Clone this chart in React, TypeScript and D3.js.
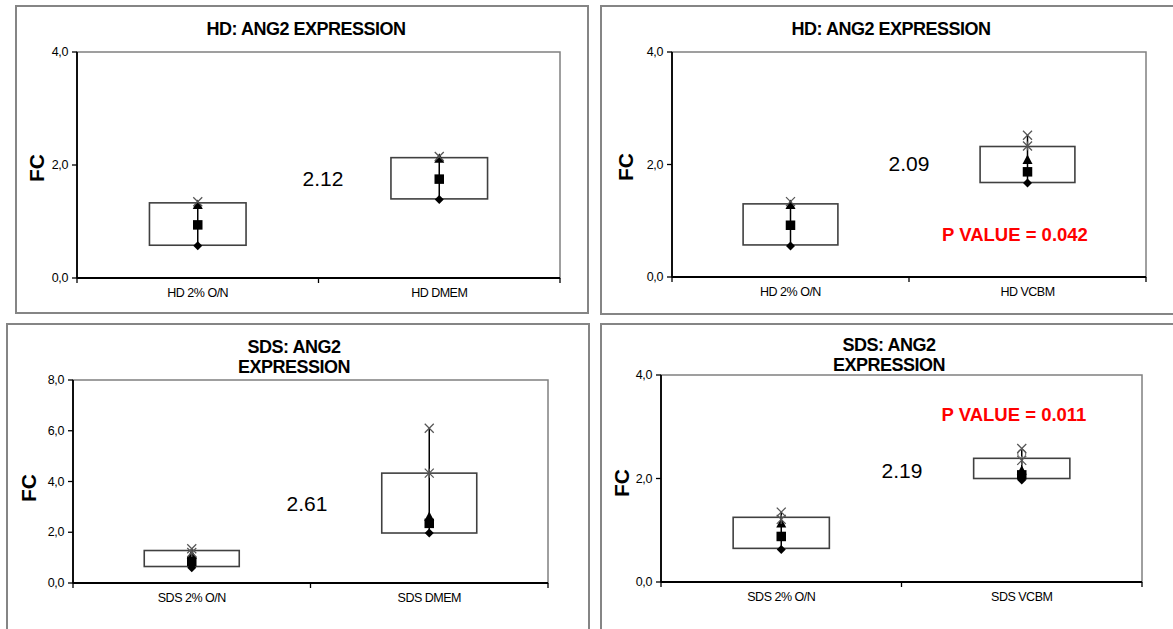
import React from "react";
import * as d3 from "d3";

// ---------- DATA ----------
const hdTitle = ["HD: ANG2 EXPRESSION"];
const sdsTitle = ["SDS: ANG2", "EXPRESSION"];
const yLabel = "FC";

const ticksMax4 = [0, 2, 4];
const ticksMax8 = [0, 2, 4, 6, 8];

const p1Categories = ["HD 2% O/N", "HD DMEM"];
const p1BoxLow = [0.58, 1.4];
const p1BoxHigh = [1.33, 2.13];
const p1Diamond = [0.57, 1.39];
const p1Square = [0.94, 1.75];
const p1Triangle = [1.29, 2.11];
const p1Star: (number | null)[] = [null, null];
const p1Circle: (number | null)[] = [null, null];
const p1Cross = [1.35, 2.15];

const p2Categories = ["HD 2% O/N", "HD VCBM"];
const p2BoxLow = [0.57, 1.68];
const p2BoxHigh = [1.3, 2.32];
const p2Diamond = [0.55, 1.67];
const p2Square = [0.92, 1.87];
const p2Triangle = [1.28, 2.08];
const p2Star: (number | null)[] = [null, 2.33];
const p2Circle: (number | null)[] = [null, null];
const p2Cross = [1.34, 2.52];

const p3Categories = ["SDS 2% O/N", "SDS DMEM"];
const p3BoxLow = [0.65, 1.97];
const p3BoxHigh = [1.28, 4.33];
const p3Diamond = [0.6, 1.97];
const p3Square = [0.85, 2.35];
const p3Triangle = [1.1, 2.6];
const p3Star: (number | null)[] = [1.2, 4.33];
const p3Circle: (number | null)[] = [null, null];
const p3Cross = [1.35, 6.1];

const p4Categories = ["SDS 2% O/N", "SDS VCBM"];
const p4BoxLow = [0.65, 2.0];
const p4BoxHigh = [1.25, 2.39];
const p4Diamond = [0.63, 1.97];
const p4Square = [0.88, 2.07];
const p4Triangle = [1.13, 2.15];
const p4Star: (number | null)[] = [1.21, 2.35];
const p4Circle: (number | null)[] = [null, 2.48];
const p4Cross = [1.35, 2.58];

const foldChangeLabels = ["2.12", "2.09", "2.61", "2.19"];
const pValueLabels: (string | null)[] = [null, "P VALUE = 0.042", null, "P VALUE = 0.011"];

// ---------- LAYOUT ----------
type Layout = {
  frame: { x: number; y: number; w: number; h: number };
  plot: { l: number; t: number; r: number; b: number };
  titleX: number;
  titleY: number[];
  fc: { x: number; y: number };
  fold: { x: number; y: number };
  p?: { x: number; y: number };
};

const layouts: Layout[] = [
  {
    frame: { x: 16, y: 6, w: 572, h: 307 },
    plot: { l: 77, t: 52, r: 560, b: 278 },
    titleX: 306,
    titleY: [29],
    fc: { x: 36, y: 168 },
    fold: { x: 323, y: 178 },
  },
  {
    frame: { x: 601, y: 6, w: 620, h: 308 },
    plot: { l: 672, t: 52, r: 1146, b: 277 },
    titleX: 891,
    titleY: [29],
    fc: { x: 625, y: 167 },
    fold: { x: 909, y: 163 },
    p: { x: 1015, y: 234 },
  },
  {
    frame: { x: 7, y: 324, w: 582, h: 340 },
    plot: { l: 73, t: 380, r: 548, b: 583 },
    titleX: 294,
    titleY: [347, 367],
    fc: { x: 28, y: 488 },
    fold: { x: 307, y: 503 },
  },
  {
    frame: { x: 601, y: 324, w: 620, h: 340 },
    plot: { l: 661, t: 375, r: 1142, b: 582 },
    titleX: 889,
    titleY: [345, 365],
    fc: { x: 621, y: 483 },
    fold: { x: 902, y: 470 },
    p: { x: 1014, y: 414 },
  },
];

const panels = [
  { title: hdTitle, ticks: ticksMax4, cats: p1Categories, low: p1BoxLow, high: p1BoxHigh, diamond: p1Diamond, square: p1Square, triangle: p1Triangle, star: p1Star, circle: p1Circle, cross: p1Cross },
  { title: hdTitle, ticks: ticksMax4, cats: p2Categories, low: p2BoxLow, high: p2BoxHigh, diamond: p2Diamond, square: p2Square, triangle: p2Triangle, star: p2Star, circle: p2Circle, cross: p2Cross },
  { title: sdsTitle, ticks: ticksMax8, cats: p3Categories, low: p3BoxLow, high: p3BoxHigh, diamond: p3Diamond, square: p3Square, triangle: p3Triangle, star: p3Star, circle: p3Circle, cross: p3Cross },
  { title: sdsTitle, ticks: ticksMax4, cats: p4Categories, low: p4BoxLow, high: p4BoxHigh, diamond: p4Diamond, square: p4Square, triangle: p4Triangle, star: p4Star, circle: p4Circle, cross: p4Cross },
];

const FONT = "'Liberation Sans', Arial, sans-serif";
const fmt = (v: number) => d3.format(".1f")(v).replace(".", ",");

function Panel({ idx }: { idx: number }) {
  const d = panels[idx];
  const L = layouts[idx];
  const { l, t, r, b } = L.plot;
  const yMax = d3.max(d.ticks) as number;
  const y = d3.scaleLinear().domain([0, yMax]).range([b, t]);
  const x = d3.scaleBand<string>().domain(d.cats).range([l, r]).padding(0);
  const bw = x.bandwidth() * 0.4;

  return (
    <g>
      <rect x={L.frame.x} y={L.frame.y} width={L.frame.w} height={L.frame.h} fill="#fff" stroke="#858585" strokeWidth={2} />
      {d.title.map((line, i) => (
        <text key={i} x={L.titleX} y={L.titleY[i]} textAnchor="middle" dominantBaseline="central" fontFamily={FONT} fontWeight="bold" fontSize={18} letterSpacing={-0.5} fill="#000">
          {line}
        </text>
      ))}
      <rect x={l} y={t} width={r - l} height={b - t} fill="none" stroke="#808080" strokeWidth={1.5} />
      <line x1={l} x2={l} y1={t} y2={b} stroke="#000" strokeWidth={1.8} />
      <line x1={l} x2={r} y1={b} y2={b} stroke="#000" strokeWidth={1.8} />
      {d.ticks.map((tv) => (
        <g key={tv}>
          <line x1={l - 5} x2={l} y1={y(tv)} y2={y(tv)} stroke="#000" strokeWidth={1.3} />
          <text x={l - 9} y={y(tv)} textAnchor="end" dominantBaseline="central" fontFamily={FONT} fontSize={12.5} letterSpacing={-0.4} fill="#000">
            {fmt(tv)}
          </text>
        </g>
      ))}
      {[l, l + (r - l) / 2, r].map((xv, i) => (
        <line key={i} x1={xv} x2={xv} y1={b} y2={b + 5} stroke="#000" strokeWidth={1.3} />
      ))}
      {d.cats.map((c) => (
        <text key={c} x={(x(c) as number) + x.bandwidth() / 2} y={b + 15} textAnchor="middle" dominantBaseline="central" fontFamily={FONT} fontSize={12.5} letterSpacing={-0.5} fill="#000">
          {c}
        </text>
      ))}
      <text transform={`translate(${L.fc.x},${L.fc.y}) rotate(-90)`} textAnchor="middle" dominantBaseline="central" fontFamily={FONT} fontWeight="bold" fontSize={21} fill="#000">
        {yLabel}
      </text>
      {d.cats.map((c, i) => {
        const cx = (x(c) as number) + x.bandwidth() / 2;
        const vals = [d.diamond[i], d.square[i], d.triangle[i], d.star[i], d.circle[i], d.cross[i]].filter((v) => v != null) as number[];
        const vmin = d3.min(vals) as number;
        const vmax = d3.max(vals) as number;
        const yh = y(d.high[i]);
        const yl = y(d.low[i]);
        const s = 4.5;
        const yd = y(d.diamond[i]);
        const yt = y(d.triangle[i]);
        return (
          <g key={c}>
            <rect x={cx - bw / 2} y={yh} width={bw} height={yl - yh} fill="#fff" stroke="#404040" strokeWidth={1.6} />
            <line x1={cx} x2={cx} y1={y(vmax)} y2={y(vmin)} stroke="#000" strokeWidth={1.5} />
            <path d={`M${cx},${yd - s}L${cx + s},${yd}L${cx},${yd + s}L${cx - s},${yd}Z`} fill="#000" />
            <rect x={cx - 4.75} y={y(d.square[i]) - 4.75} width={9.5} height={9.5} fill="#000" />
            <path d={`M${cx},${yt - 5.5}L${cx + 5},${yt + 4}L${cx - 5},${yt + 4}Z`} fill="#000" />
            {d.star[i] != null && (
              <g stroke="#555" strokeWidth={1.3}>
                <line x1={cx - 4.5} x2={cx + 4.5} y1={y(d.star[i] as number) - 4.5} y2={y(d.star[i] as number) + 4.5} />
                <line x1={cx - 4.5} x2={cx + 4.5} y1={y(d.star[i] as number) + 4.5} y2={y(d.star[i] as number) - 4.5} />
                <line x1={cx} x2={cx} y1={y(d.star[i] as number) - 4.5} y2={y(d.star[i] as number) + 4.5} />
              </g>
            )}
            {d.circle[i] != null && (
              <circle cx={cx} cy={y(d.circle[i] as number)} r={4} fill="none" stroke="#777" strokeWidth={1.2} />
            )}
            <g stroke="#555" strokeWidth={1.3}>
              <line x1={cx - 4.5} x2={cx + 4.5} y1={y(d.cross[i]) - 4.5} y2={y(d.cross[i]) + 4.5} />
              <line x1={cx - 4.5} x2={cx + 4.5} y1={y(d.cross[i]) + 4.5} y2={y(d.cross[i]) - 4.5} />
            </g>
          </g>
        );
      })}
      <text x={L.fold.x} y={L.fold.y} textAnchor="middle" dominantBaseline="central" fontFamily={FONT} fontSize={21} fill="#000">
        {foldChangeLabels[idx]}
      </text>
      {pValueLabels[idx] && L.p && (
        <text x={L.p.x} y={L.p.y} textAnchor="middle" dominantBaseline="central" fontFamily={FONT} fontWeight="bold" fontSize={18.5} fill="#ff0000">
          {pValueLabels[idx]}
        </text>
      )}
    </g>
  );
}

export default function App() {
  return (
    <svg width={1173} height={629} style={{ position: "absolute", left: 0, top: 0, background: "#fff" }}>
      <rect x={0} y={0} width={1173} height={629} fill="#fff" />
      {panels.map((_, i) => (
        <Panel key={i} idx={i} />
      ))}
    </svg>
  );
}
